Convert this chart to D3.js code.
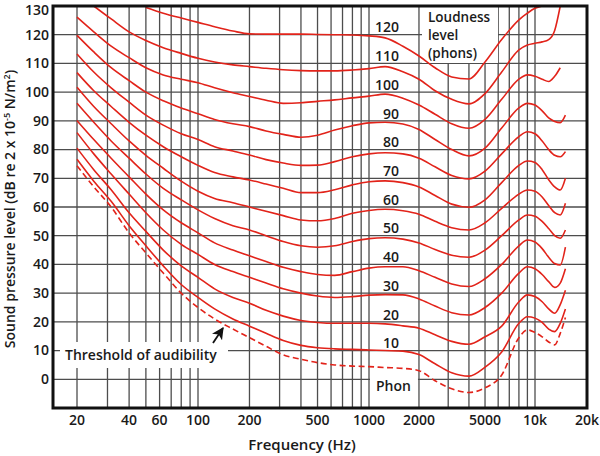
<!DOCTYPE html>
<html><head><meta charset="utf-8">
<script src="https://cdn.jsdelivr.net/npm/d3@7"></script>
<style>body{margin:0;background:#fff}text{font-family:"Open Sans","Noto Sans",sans-serif;font-weight:600;fill:#1a1a1a}</style>
</head><body>
<svg id="chart" width="600" height="456"></svg>
<script>
// ---- data ----
const freqs = [20, 25, 31.5, 40, 50, 63, 80, 100, 125, 160, 200, 250, 315, 400, 500, 630, 800, 1000, 1250, 1600, 2000, 2500, 3150, 4000, 5000, 6300, 8000, 9000, 10000, 11000, 12000, 13000, 14000, 15000];
const phon120 = [null, null, null, null, 129.5, 127.5, 125.8, 124.3, 122.8, 121.3, 120.3, 120.2, 120.2, 120.2, 120.1, 120, 119.9, 119.6, 118.9, 116, 112.6, 108.5, 105.3, 104.6, 110.5, 118.3, 125.2, 127.5, 129.2, 130, null, null, null, null];
const phon110 = [null, 130, 125.5, 121, 118, 115.5, 113.5, 111.8, 110.5, 109.5, 108.9, 108.3, 107.8, 107.5, 107.4, 107.4, 107.7, 108.2, 108.9, 107.1, 104.5, 100.5, 97.5, 95.9, 99.5, 107, 114.7, 116.4, 117, 117.5, 118.3, 121.5, 130, null];
const phon100 = [126.1, 121, 116, 112, 108.5, 106, 104.5, 103.3, 101.5, 99.8, 98.5, 97.2, 96.1, 96.3, 96.8, 97.3, 98, 98.6, 99.3, 97.9, 95.5, 92.3, 89, 87.4, 90.5, 97.5, 104.5, 106, 105.5, 104.5, 103.7, 105.5, 108.5, null];
const phon90 = [119.8, 114, 108.5, 104, 100, 97, 94.5, 92.5, 90.5, 89, 88, 86.5, 85.3, 84.3, 85, 86.8, 88.3, 89.3, 89.5, 88.9, 87, 83.5, 80, 77.8, 80.5, 87.5, 94.5, 96.1, 95.5, 93.5, 91, 89.8, 89.4, 92];
const phon80 = [113.3, 107, 101.5, 96.5, 92, 88.5, 85.5, 83.5, 81, 79.5, 78.1, 76.5, 75.3, 74.5, 74.6, 75.8, 77.5, 78.5, 78.9, 78.5, 77, 74, 71, 69.8, 72.5, 78.5, 84.5, 86.2, 85.5, 83, 80, 78, 77.5, 79.3];
const phon70 = [106.8, 100.5, 95, 89.5, 85, 81, 77.5, 74.5, 72, 70.5, 69.4, 68, 66.5, 65, 65, 66, 67.7, 68.8, 69.1, 68.5, 67, 64, 61, 59.9, 62.5, 68.5, 74.5, 76, 75.5, 73, 69.5, 67, 65.9, 70];
const phon60 = [101.7, 95, 89, 83, 78, 73.5, 69, 65.5, 63, 61.5, 60, 58.5, 57, 55.5, 55.2, 56, 57.8, 58.8, 59.2, 58.7, 57.5, 55, 52.8, 52, 54.5, 59.5, 64.5, 65.9, 65.5, 63.5, 60.5, 58, 57.2, 61.3];
const phon50 = [96.1, 89.5, 83, 77, 71.5, 66.5, 62.5, 59, 56, 53.5, 52, 50, 48, 46.5, 46, 46.5, 48, 49, 49.3, 48.8, 47.5, 45.2, 43.2, 42.5, 45, 50, 55.5, 57.2, 56.8, 55, 52.5, 50, 49.1, 52];
const phon40 = [90.1, 83.5, 77, 70.5, 64.5, 59, 54.5, 51, 47.5, 45, 43, 41, 39, 37.5, 36.5, 36.2, 37.5, 38.7, 39.2, 39.2, 37.8, 35.5, 33.2, 32.3, 35, 40, 46.5, 48.5, 47.8, 45.5, 42.5, 40.3, 39.8, 46];
const phon30 = [85.9, 78.5, 71.5, 64.5, 58, 52, 47, 43.5, 40, 37.5, 35.5, 33.5, 31.5, 30, 29, 28.5, 28.8, 29.3, 29.5, 29.4, 28, 25.5, 23.2, 22.4, 25, 30, 37, 39.2, 38.5, 36.5, 34, 32, 33.5, 38.5];
const phon20 = [80.5, 73, 66, 58, 51.5, 45, 39.5, 35.5, 31.5, 28.5, 26.5, 24, 22, 20.5, 19.8, 19.5, 19.5, 19.5, 19.3, 18.6, 17.8, 15.5, 13.2, 12.2, 14.8, 18.5, 27, 29.4, 28.8, 27, 24.5, 23, 26, 31];
const phon10 = [76.6, 69, 62, 53.5, 46.5, 39.5, 33, 28.5, 24.5, 21, 18.5, 16, 13.5, 11.8, 11, 10.6, 10.4, 10.2, 10, 9.8, 8.6, 5.4, 2.3, 1.1, 4.2, 9.5, 19.5, 21.8, 21.3, 19.8, 17.5, 16.6, 19.5, 24.5];
const threshold = [74.4, 67, 60, 51, 44, 37, 30, 25, 21, 17.5, 14.5, 11.5, 8.5, 7, 5.8, 5, 4.6, 4.4, 4.1, 3.8, 3, -0.5, -3.3, -4.6, -3, 1.5, 14.5, 17.2, 16.3, 14.8, 13, 12, 16, 21.5];
const curveSeries = [phon120, phon110, phon100, phon90, phon80, phon70, phon60, phon50, phon40, phon30, phon20, phon10];
const phonLabels = [120, 110, 100, 90, 80, 70, 60, 50, 40, 30, 20, 10];
const gridFreqs = [20, 30, 40, 50, 60, 70, 80, 90, 100, 200, 300, 400, 500, 600, 700, 800, 900, 1000, 2000, 3000, 4000, 5000, 6000, 7000, 8000, 9000, 10000];
const xTickValues = [20, 40, 60, 100, 200, 500, 1000, 2000, 5000, 10000, 20000];
const xTickLabels = ["20", "40", "60", "100", "200", "500", "1000", "2000", "5000", "10k", "20k"];
const yTickValues = [0, 10, 20, 30, 40, 50, 60, 70, 80, 90, 100, 110, 120, 130];
const gridLevels = [0, 10, 20, 30, 40, 50, 60, 70, 80, 90, 100, 110, 120];
const legendLines = ["Loudness", "level", "(phons)"];

// ---- layout ----
const L = 53, R = 587, T = 6, B = 408;
const svg = d3.select("#chart");
const x = d3.scaleLog().domain([20, 100, 1000, 10000, 20000]).range([77, 198, 369, 535, 587]);
const y = d3.scaleLinear().domain([-10, 130]).range([B, T]);
const RED = "#e2231a", GRID = "#4d4d4d";

svg.append("defs").append("clipPath").attr("id", "plot")
  .append("rect").attr("x", L).attr("y", T).attr("width", R - L).attr("height", B - T);

// grid
const grid = svg.append("g");
grid.selectAll("line.v").data(gridFreqs).join("line")
  .attr("x1", d => x(d)).attr("x2", d => x(d)).attr("y1", T).attr("y2", B)
  .attr("stroke", GRID).attr("stroke-width", 1.3);
grid.selectAll("line.h").data(gridLevels).join("line")
  .attr("x1", L).attr("x2", R).attr("y1", d => y(d)).attr("y2", d => y(d))
  .attr("stroke", GRID).attr("stroke-width", 1.3);

// white label boxes that interrupt the grid
svg.append("rect").attr("x", 422).attr("y", T + 1).attr("width", 76).attr("height", 56).attr("fill", "#fff");
svg.append("rect").attr("x", 60).attr("y", 342).attr("width", 168).attr("height", 26).attr("fill", "#fff");
svg.append("rect").attr("x", x(1000) + 1).attr("y", 372).attr("width", x(2000) - x(1000) - 2).attr("height", 34).attr("fill", "#fff");

// curves
const line = d3.line()
  .defined(d => d[1] != null)
  .x(d => x(d[0])).y(d => y(d[1]))
  .curve(d3.curveMonotoneX);
const cg = svg.append("g").attr("clip-path", "url(#plot)");
curveSeries.forEach(s => {
  cg.append("path").attr("d", line(freqs.map((f, i) => [f, s[i]])))
    .attr("fill", "none").attr("stroke", RED).attr("stroke-width", 1.6);
});
cg.append("path").attr("d", line(freqs.map((f, i) => [f, threshold[i]])))
  .attr("fill", "none").attr("stroke", RED).attr("stroke-width", 1.6)
  .attr("stroke-dasharray", "6,3.5");

// frame
svg.append("rect").attr("x", L).attr("y", T).attr("width", R - L).attr("height", B - T)
  .attr("fill", "none").attr("stroke", "#111").attr("stroke-width", 3);

// y tick labels
svg.append("g").selectAll("text").data(yTickValues).join("text")
  .attr("x", 49).attr("y", d => y(d) + (d === 130 ? 4 : 0)).attr("dy", "0.35em")
  .attr("text-anchor", "end").attr("font-size", 14).text(d => d);

// x tick labels
svg.append("g").selectAll("text").data(xTickValues).join("text")
  .attr("x", d => x(d)).attr("y", 420).attr("dy", "0.35em")
  .attr("text-anchor", "middle").attr("font-size", 14).text((d, i) => xTickLabels[i]);

// phon labels
svg.append("g").selectAll("text").data(phonLabels).join("text")
  .attr("x", 399).attr("y", d => y(d + 2.5)).attr("dy", "0.35em")
  .attr("text-anchor", "end").attr("font-size", 14).text(d => d);

// legend-ish texts
svg.append("g").selectAll("text").data(legendLines).join("text")
  .attr("x", 428).attr("y", (d, i) => 17 + i * 18.3).attr("dy", "0.35em")
  .attr("font-size", 13.5).text(d => d);
svg.append("text").attr("x", 65).attr("y", 355).attr("dy", "0.35em").attr("font-size", 14)
  .text("Threshold of audibility");
svg.append("text").attr("x", 376).attr("y", 386).attr("dy", "0.35em").attr("font-size", 14)
  .text("Phon");

// arrow
svg.append("defs").append("marker").attr("id", "ah").attr("viewBox", "0 0 10 10")
  .attr("refX", 9).attr("refY", 5).attr("markerWidth", 12).attr("markerHeight", 12)
  .attr("markerUnits", "userSpaceOnUse").attr("orient", "auto")
  .append("path").attr("d", "M0,0 L10,5 L0,10 L2.5,5 Z").attr("fill", "#111");
svg.append("line").attr("x1", 213).attr("y1", 343).attr("x2", 223).attr("y2", 328)
  .attr("stroke", "#111").attr("stroke-width", 1.8).attr("marker-end", "url(#ah)");

// axis titles
svg.append("text").attr("x", 302).attr("y", 445).attr("dy", "0.35em")
  .attr("text-anchor", "middle").attr("font-size", 15).text("Frequency (Hz)");
const yt = svg.append("text").attr("transform", "translate(15,209) rotate(-90)")
  .attr("text-anchor", "middle").attr("font-size", 14);
yt.append("tspan").text("Sound pressure level (dB re 2 x 10");
yt.append("tspan").attr("dy", -5).attr("font-size", 9).text("-5");
yt.append("tspan").attr("dy", 5).text(" N/m");
yt.append("tspan").attr("dy", -5).attr("font-size", 9).text("2");
yt.append("tspan").attr("dy", 5).text(")");
</script>
</body></html>
